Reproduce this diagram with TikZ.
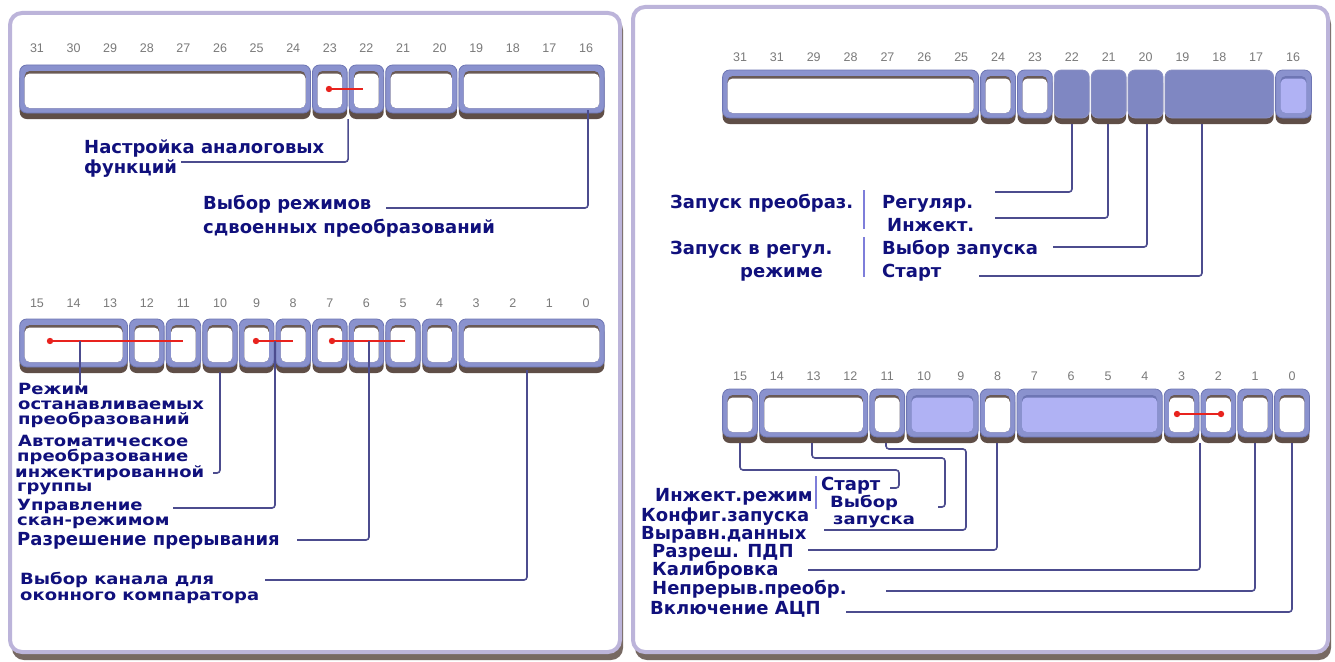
\documentclass[tikz,border=0pt]{standalone}
\usepackage{fontspec}
\newfontfamily\labfont{DejaVu Sans}
\newfontfamily\numfont{Liberation Sans}
\definecolor{rimc}{HTML}{8A92CE}
\definecolor{rimedge}{HTML}{6E76B4}
\definecolor{shadowc}{HTML}{5F4E47}
\definecolor{innershade}{HTML}{6A5A55}
\definecolor{lightc}{HTML}{B0B2F4}
\definecolor{darkc}{HTML}{7F87C2}
\definecolor{framec}{HTML}{BCB4DA}
\definecolor{labc}{HTML}{10107C}
\definecolor{numc}{HTML}{7A7A7A}
\definecolor{connc}{HTML}{4C4C8E}
\definecolor{redc}{HTML}{E8231E}
\definecolor{barc}{HTML}{7E7EDA}
\tikzset{
 lab/.style={font=\labfont\bfseries\fontsize{18}{18}\selectfont, text=labc, anchor=base west, inner sep=0pt},
 num/.style={font=\numfont\fontsize{12.5}{12.5}\selectfont, text=numc, inner sep=0pt},
 conn/.style={draw=connc, line width=1.6pt, rounded corners=3pt},
 redl/.style={draw=redc, line width=1.3pt},
 vbar/.style={draw=barc, line width=2.5pt},
}
\newcommand\tight[1]{\scalebox{1}[0.86]{#1}}
\newcommand\regcell[7]{%
  \fill[shadowc, rounded corners=7pt] (#2,#4+6) rectangle (#3,#5+6);
  \filldraw[fill=rimc, draw=rimedge, line width=0.8pt, rounded corners=7pt] (#2,#4) rectangle (#3,#5);
  \fill[#7, rounded corners=5pt] (#2+5,#4+6) rectangle (#3-5,#5-5);
  \fill[#6, rounded corners=5pt] (#2+5,#4+8.5) rectangle (#3-5,#5-5);
  \coordinate (#1) at ({(#2+#3)/2},#5+6);
}
\newcommand\darkcell[5]{%
  \fill[shadowc, rounded corners=7pt] (#2,#4+6) rectangle (#3,#5+6);
  \filldraw[fill=darkc, draw=rimedge!80, line width=0.8pt, rounded corners=7pt] (#2,#4) rectangle (#3,#5);
  \coordinate (#1) at ({(#2+#3)/2},#5+6);
}
\begin{document}
\begin{tikzpicture}[x=1pt,y=-1pt]
\useasboundingbox (0,0) rectangle (1335,661);
\fill[white] (0,0) rectangle (1335,661);
% panels
\fill[shadowc!85, rounded corners=12pt] (12,18) rectangle (623,660);
\filldraw[fill=white, draw=framec, line width=4pt, rounded corners=12pt] (10,13) rectangle (620,652);
\fill[shadowc!85, rounded corners=12pt] (635,12) rectangle (1331,660);
\filldraw[fill=white, draw=framec, line width=4pt, rounded corners=12pt] (633,7) rectangle (1328,652);

% ---------- left top register ----------
\foreach \b in {31,...,16} {\node[num] (lt\b) at ({37+(31-\b)*36.6},48) {\b};}
\regcell{ltA}{19.7}{310.5}{65}{113}{white}{innershade}
\regcell{ltB}{312.5}{347.1}{65}{113}{white}{innershade}
\regcell{ltC}{349.1}{383.7}{65}{113}{white}{innershade}
\regcell{ltD}{385.7}{456.9}{65}{113}{white}{innershade}
\regcell{ltE}{458.9}{604.3}{65}{113}{white}{innershade}
\coordinate (rd1) at (329,89);
\coordinate (re1) at (363,89);
\draw[redl] (rd1) -- (re1);
\fill[redc] (rd1) circle (3.2pt);

\node[lab] (t1) at (84,153) {Настройка аналоговых};
\node[lab] (t2) at (84,173) {функций};
\node[lab] (t3) at (203,209) {Выбор режимов};
\node[lab] (t4) at (203,233) {сдвоенных преобразований};
\coordinate (sA) at (348.1,119);
\coordinate (eA) at (181,162);
\draw[conn] (sA) |- (eA);
\coordinate (sB) at (588,110);
\coordinate (eB) at (386,208);
\draw[conn] (sB) |- (eB);

% ---------- left bottom register ----------
\foreach \b in {15,...,0} {\node[num] (lb\b) at ({37+(15-\b)*36.6},303) {\b};}
\regcell{lbA}{19.7}{127.5}{319}{367}{white}{innershade}
\regcell{lb12}{129.5}{164.1}{319}{367}{white}{innershade}
\regcell{lb11}{166.1}{200.7}{319}{367}{white}{innershade}
\regcell{lb10}{202.7}{237.3}{319}{367}{white}{innershade}
\regcell{lb9}{239.3}{273.9}{319}{367}{white}{innershade}
\regcell{lb8}{275.9}{310.5}{319}{367}{white}{innershade}
\regcell{lb7}{312.5}{347.1}{319}{367}{white}{innershade}
\regcell{lb6}{349.1}{383.7}{319}{367}{white}{innershade}
\regcell{lb5}{385.7}{420.3}{319}{367}{white}{innershade}
\regcell{lb4}{422.3}{456.9}{319}{367}{white}{innershade}
\regcell{lbB}{458.9}{604.3}{319}{367}{white}{innershade}
\coordinate (rd2) at (50,341);  \coordinate (re2) at (183,341);
\coordinate (rd3) at (256,341); \coordinate (re3) at (293,341);
\coordinate (rd4) at (332,341); \coordinate (re4) at (405,341);
\foreach \i in {2,3,4} {\draw[redl] (rd\i) -- (re\i); \fill[redc] (rd\i) circle (3.2pt);}

\node[lab] (u1) at (18,394) {\tight{Режим}};
\node[lab] (u2) at (18,409) {\tight{останавливаемых}};
\node[lab] (u3) at (18,424) {\tight{преобразований}};
\node[lab] (u4) at (18,446) {\tight{Автоматическое}};
\node[lab] (u5) at (17,461) {\tight{преобразование}};
\node[lab] (u6) at (15,477) {\tight{инжектированной}};
\node[lab] (u7) at (17,491) {\tight{группы}};
\node[lab] (u8) at (17,510) {\tight{Управление}};
\node[lab] (u9) at (17,525) {\tight{скан-режимом}};
\node[lab] (u10) at (17,545) {Разрешение прерывания};
\node[lab] (u11) at (20,584) {\tight{Выбор канала для}};
\node[lab] (u12) at (20,600) {\tight{оконного компаратора}};

\coordinate (s1) at (80,341);  \coordinate (e1) at (80,385);
\draw[conn] (s1) -- (e1);
\coordinate (s2) at (220,372); \coordinate (e2) at (213,473);
\draw[conn] (s2) |- (e2);
\coordinate (s3) at (275,341); \coordinate (e3) at (173,508);
\draw[conn] (s3) |- (e3);
\coordinate (s4) at (369,341); \coordinate (e4) at (297,540);
\draw[conn] (s4) |- (e4);
\coordinate (s5) at (527,370); \coordinate (e5) at (265,580);
\draw[conn] (s5) |- (e5);

% ---------- right top register ----------
\foreach \b/\t in {31/31,30/31,29/29,28/28,27/27,26/26,25/25,24/24,23/23,22/22,21/21,20/20,19/19,18/18,17/17,16/16}
  {\node[num] (rt\b) at ({740+(31-\b)*36.87},57) {\t};}
\regcell{rtA}{722.6}{978.6}{70}{118}{white}{innershade}
\regcell{rt24c}{980.6}{1015.5}{70}{118}{white}{innershade}
\regcell{rt23c}{1017.5}{1052.3}{70}{118}{white}{innershade}
\darkcell{rt22c}{1054.3}{1089.2}{70}{118}
\darkcell{rt21c}{1091.2}{1126.1}{70}{118}
\darkcell{rt20c}{1128.1}{1163}{70}{118}
\darkcell{rtB}{1165}{1273.6}{70}{118}
\regcell{rt16c}{1275.6}{1311.4}{70}{118}{lightc}{rimedge}

\node[lab] (v1) at (670,208) {Запуск преобраз.};
\node[lab] (v2) at (882,208) {Регуляр.};
\node[lab] (v3) at (887,231) {Инжект.};
\node[lab] (v4) at (670,254) {Запуск в регул.};
\node[lab] (v5) at (882,254) {Выбор запуска};
\node[lab] (v6) at (740,277) {режиме};
\node[lab] (v7) at (882,277) {Старт};
\coordinate (b1a) at (864,190); \coordinate (b1b) at (864,229);
\draw[vbar] (b1a) -- (b1b);
\coordinate (b2a) at (864,237); \coordinate (b2b) at (864,277);
\draw[vbar] (b2a) -- (b2b);

\coordinate (p1) at (1072,124); \coordinate (q1) at (995,192);
\draw[conn] (p1) |- (q1);
\coordinate (p2) at (1108,124); \coordinate (q2) at (995,218);
\draw[conn] (p2) |- (q2);
\coordinate (p3) at (1147,124); \coordinate (q3) at (1053,247);
\draw[conn] (p3) |- (q3);
\coordinate (p4) at (1202,124); \coordinate (q4) at (979,276);
\draw[conn] (p4) |- (q4);

% ---------- right bottom register ----------
\foreach \b in {15,...,0} {\node[num] (rb\b) at ({740+(15-\b)*36.8},376) {\b};}
\regcell{rb15c}{722.6}{757.4}{389}{437}{white}{innershade}
\regcell{rbA}{759.4}{867.8}{389}{437}{white}{innershade}
\regcell{rb11c}{869.8}{904.6}{389}{437}{white}{innershade}
\regcell{rbB}{906.6}{978.2}{389}{437}{lightc}{rimedge}
\regcell{rb8c}{980.2}{1015}{389}{437}{white}{innershade}
\regcell{rbC}{1017}{1162.2}{389}{437}{lightc}{rimedge}
\regcell{rb3c}{1164.2}{1199}{389}{437}{white}{innershade}
\regcell{rb2c}{1201}{1235.8}{389}{437}{white}{innershade}
\regcell{rb1c}{1237.8}{1272.6}{389}{437}{white}{innershade}
\regcell{rb0c}{1274.6}{1309.4}{389}{437}{white}{innershade}
\coordinate (rd5) at (1177,414); \coordinate (re5) at (1221,414);
\draw[redl] (rd5) -- (re5);
\fill[redc] (rd5) circle (3.2pt);
\fill[redc] (re5) circle (3.2pt);

\node[lab] (w1) at (821,490) {Старт};
\node[lab] (w2) at (655,501) {Инжект.режим};
\node[lab] (w3) at (830,507) {\tight{Выбор}};
\node[lab] (w4) at (641,521) {Конфиг.запуска};
\node[lab] (w5) at (833,524) {\tight{запуска}};
\node[lab] (w6) at (641,539) {Выравн.данных};
\node[lab] (w7) at (652,557) {Разреш. ПДП};
\node[lab] (w8) at (652,575) {Калибровка};
\node[lab] (w9) at (652,594) {Непрерыв.преобр.};
\node[lab] (w10) at (650,614) {Включение АЦП};
\coordinate (b3a) at (816,476); \coordinate (b3b) at (816,509);
\draw[vbar] (b3a) -- (b3b);

\coordinate (m1) at (740,443);  \coordinate (n1) at (890,488);
\draw[conn] (m1) -- (740,470) -- (899,470) -- (899,488) -- (n1);
\coordinate (m2) at (812,443);  \coordinate (n2) at (938,507);
\draw[conn] (m2) -- (812,458) -- (945,458) -- (945,507) -- (n2);
\coordinate (m3) at (886,443);  \coordinate (n3) at (824,530);
\draw[conn] (m3) -- (886,449) -- (966,449) -- (966,530) -- (n3);
\coordinate (m4) at (997,443);  \coordinate (n4) at (808,550);
\draw[conn] (m4) |- (n4);
\coordinate (m5) at (1200,443); \coordinate (n5) at (808,570);
\draw[conn] (m5) |- (n5);
\coordinate (m6) at (1255,443); \coordinate (n6) at (886,591);
\draw[conn] (m6) |- (n6);
\coordinate (m7) at (1292,443); \coordinate (n7) at (846,612);
\draw[conn] (m7) |- (n7);
\end{tikzpicture}
\end{document}
